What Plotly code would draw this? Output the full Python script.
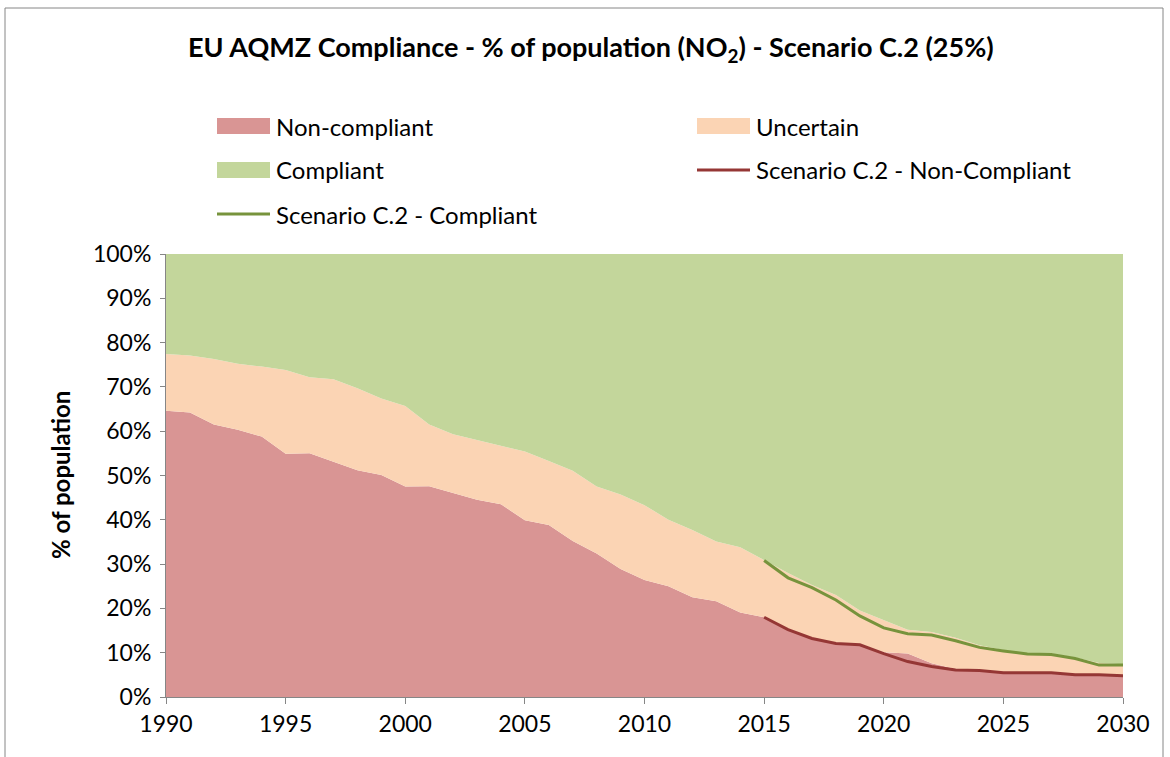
import plotly.graph_objects as go

# ---- data (% of population) ----
years = list(range(1990, 2031))

non_compliant = [64.6, 64.2, 61.5, 60.3, 58.8, 54.9, 55.0, 53.1, 51.2, 50.1,
                 47.5, 47.6, 46.1, 44.5, 43.5, 39.9, 38.8, 35.2, 32.4, 28.9,
                 26.4, 25.0, 22.5, 21.6, 19.1, 18.0, 15.4, 13.4, 12.3, 12.0,
                 10.1, 9.8, 7.6, 6.3, 6.1, 5.6, 5.6, 5.6, 5.1, 5.1, 4.9]

uncertain = [12.8, 12.9, 14.8, 14.9, 15.8, 18.9, 17.2, 18.6, 18.5, 17.3,
             18.2, 13.9, 13.2, 13.5, 13.2, 15.5, 14.5, 15.9, 15.1, 16.8,
             16.9, 15.0, 15.2, 13.5, 14.7, 12.9, 12.6, 11.9, 10.7, 7.5,
             7.3, 5.4, 7.1, 7.1, 5.6, 5.0, 4.2, 4.2, 3.8, 2.6, 2.5]

compliant = [22.6, 22.9, 23.7, 24.8, 25.4, 26.2, 27.8, 28.3, 30.3, 32.6,
             34.3, 38.5, 40.7, 42.0, 43.3, 44.6, 46.7, 48.9, 52.5, 54.3,
             56.7, 60.0, 62.3, 64.9, 66.2, 69.1, 72.0, 74.7, 77.0, 80.5,
             82.6, 84.8, 85.3, 86.6, 88.3, 89.4, 90.2, 90.2, 91.1, 92.3, 92.6]

scen_years = list(range(2015, 2031))
scen_non_compliant = [18.0, 15.2, 13.2, 12.1, 11.8, 9.8, 8.0, 6.9, 6.1, 6.0,
                      5.5, 5.5, 5.5, 5.0, 5.0, 4.8]
scen_compliant = [30.8, 26.9, 24.7, 21.9, 18.3, 15.6, 14.3, 14.0, 12.7, 11.2,
                  10.4, 9.7, 9.6, 8.7, 7.2, 7.2]

y_ticks = [0, 10, 20, 30, 40, 50, 60, 70, 80, 90, 100]
x_ticks = [1990, 1995, 2000, 2005, 2010, 2015, 2020, 2025, 2030]

# ---- styling ----
C_NC = "#D99594"
C_UN = "#FBD4B4"
C_CO = "#C3D69B"
C_LNC = "#953735"
C_LCO = "#77933C"
AXIS_GREY = "#868686"
FONT = "Lato"

W, H = 1170, 757
L, R, T, B = 166, 1123, 254, 697


def px(x):
    return (x - L) / (R - L)


def py(y):
    return (B - y) / (B - T)


fig = go.Figure()

for name, vals, col in [("Non-compliant", non_compliant, C_NC),
                        ("Uncertain", uncertain, C_UN),
                        ("Compliant", compliant, C_CO)]:
    fig.add_trace(go.Scatter(
        x=years, y=vals, name=name, mode="lines", stackgroup="pop",
        line=dict(width=0, color=col), fillcolor=col, hoverinfo="x+y",
    ))

fig.add_trace(go.Scatter(x=scen_years, y=scen_non_compliant,
                         name="Scenario C.2 - Non-Compliant", mode="lines",
                         line=dict(color=C_LNC, width=3)))
fig.add_trace(go.Scatter(x=scen_years, y=scen_compliant,
                         name="Scenario C.2 - Compliant", mode="lines",
                         line=dict(color=C_LCO, width=3)))

shapes = []
annotations = []

# outer chart frame
shapes.append(dict(type="rect", xref="paper", yref="paper",
                   x0=px(5), x1=px(1163), y0=py(762), y1=py(8),
                   line=dict(color=AXIS_GREY, width=1), layer="below"))

# legend, two columns
legend_items = [
    ("Non-compliant", "box", C_NC, 217, 126),
    ("Uncertain", "box", C_UN, 697, 126),
    ("Compliant", "box", C_CO, 217, 170),
    ("Scenario C.2 - Non-Compliant", "line", C_LNC, 697, 170),
    ("Scenario C.2 - Compliant", "line", C_LCO, 217, 214),
]
for label, kind, col, x0, yc in legend_items:
    if kind == "box":
        shapes.append(dict(type="rect", xref="paper", yref="paper",
                           x0=px(x0), x1=px(x0 + 53), y0=py(yc + 8), y1=py(yc - 8),
                           fillcolor=col, line=dict(width=0)))
    else:
        shapes.append(dict(type="line", xref="paper", yref="paper",
                           x0=px(x0), x1=px(x0 + 53), y0=py(yc), y1=py(yc),
                           line=dict(color=col, width=3)))
    annotations.append(dict(text=label, xref="paper", yref="paper",
                            x=px(x0 + 57), y=py(yc), xanchor="left", yanchor="middle",
                            showarrow=False, font=dict(family=FONT, size=24, color="black")))

# title
annotations.append(dict(
    text="<b>EU AQMZ Compliance - % of population (NO<sub>2</sub>) - Scenario C.2 (25%)</b>",
    xref="paper", yref="paper", x=px(591), y=py(48), xanchor="center", yanchor="middle",
    showarrow=False, font=dict(family=FONT, size=27, color="black")))

# y-axis title
annotations.append(dict(
    text="<b>% of population</b>", xref="paper", yref="paper",
    x=px(60), y=py(475), xanchor="center", yanchor="middle", textangle=-90,
    showarrow=False, font=dict(family=FONT, size=24, color="black")))

fig.update_layout(
    width=W, height=H,
    margin=dict(l=L, r=W - R, t=T, b=H - B, pad=0),
    paper_bgcolor="white", plot_bgcolor="white",
    showlegend=False,
    shapes=shapes, annotations=annotations,
    font=dict(family=FONT, size=23, color="black"),
)

fig.update_xaxes(range=[1990, 2030], tickvals=x_ticks, ticktext=[str(v) for v in x_ticks],
                 showgrid=False, zeroline=False, showline=True, linecolor=AXIS_GREY,
                 linewidth=1, ticks="outside", ticklen=6, tickcolor=AXIS_GREY,
                 tickfont=dict(family=FONT, size=23, color="black"))
fig.update_yaxes(range=[0, 100], tickvals=y_ticks, ticktext=[f"{v}%" for v in y_ticks],
                 showgrid=False, zeroline=False, showline=True, linecolor=AXIS_GREY,
                 linewidth=1, ticks="outside", ticklen=5, tickcolor=AXIS_GREY,
                 ticklabelstandoff=4,
                 tickfont=dict(family=FONT, size=23, color="black"))

fig.write_html("out.html")
